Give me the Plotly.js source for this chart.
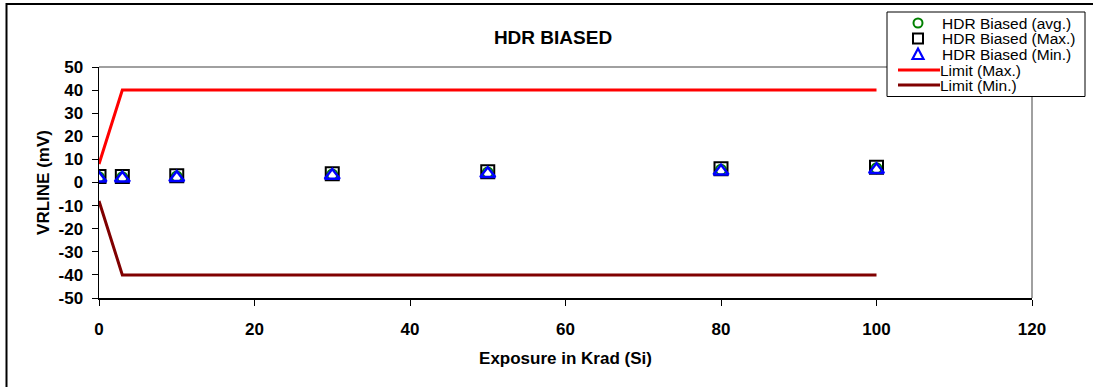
<!DOCTYPE html>
<html>
<head>
<meta charset="utf-8">
<script src="https://cdn.plot.ly/plotly-3.0.1.min.js"></script>
<style>html,body{margin:0;padding:0;background:#fff;}#chart{width:1093px;height:387px;}</style>
</head>
<body>
<div id="chart"></div>
<script>
const exposure = [0, 3, 10, 30, 50, 80, 100];
const avgVals = [2.3, 2.3, 2.6, 3.5, 4.3, 5.5, 6.2];
const maxVals = [2.6, 2.6, 2.9, 3.8, 4.6, 5.9, 6.6];
const minVals = [1.8, 1.8, 2.1, 3.0, 3.8, 4.9, 5.5];
const limitX = [0, 3, 100];
const limitMax = [8, 40, 40];
const limitMin = [-8, -40, -40];
const xTicks = [0, 20, 40, 60, 80, 100, 120];
const yTicks = [-50, -40, -30, -20, -10, 0, 10, 20, 30, 40, 50];
const seriesNames = ['HDR Biased (avg.)', 'HDR Biased (Max.)', 'HDR Biased (Min.)', 'Limit (Max.)', 'Limit (Min.)'];

const FONT = 'Arial, "Liberation Sans", sans-serif';
const W = 1093, H = 387, ML = 99, MR = 61, MT = 67, MB = 89;
const PW = W - ML - MR, PH = H - MT - MB;
const px = v => (v - ML) / PW;
const py = v => (H - MB - v) / PH;

const styles = [
  {mode: 'markers', marker: {symbol: 'circle-open', size: 10, color: '#008000', line: {width: 2, color: '#008000'}}},
  {mode: 'markers', marker: {symbol: 'square-open', size: 13, color: '#000000', line: {width: 2, color: '#000000'}}},
  {mode: 'markers', marker: {symbol: 'triangle-up-open', size: 13, color: '#0000ff', line: {width: 2.5, color: '#0000ff'}}},
  {mode: 'lines', line: {color: '#ff0000', width: 3}},
  {mode: 'lines', line: {color: '#800000', width: 3}}
];
const xs = [exposure, exposure, exposure, limitX, limitX];
const ys = [avgVals, maxVals, minVals, limitMax, limitMin];
const traces = ys.map((y, i) => Object.assign({x: xs[i], y: y, name: seriesNames[i], type: 'scatter', showlegend: false}, styles[i]));

// custom legend (Excel-like compact)
const rowY = [23, 38.5, 54, 70, 85];
const symX = 918;
const shapes = [
  {type: 'line', xref: 'paper', yref: 'paper', x0: 0, x1: 1, y0: 1, y1: 1, line: {color: '#808080', width: 1.5}},
  {type: 'line', xref: 'paper', yref: 'paper', x0: 1, x1: 1, y0: 0, y1: 1, line: {color: '#808080', width: 1.5}},
  {type: 'rect', xref: 'paper', yref: 'paper', x0: px(6.5), x1: px(1200), y0: py(500), y1: py(4),
   line: {color: '#000', width: 2}, layer: 'below'},
  {type: 'rect', xref: 'paper', yref: 'paper', x0: px(887), x1: px(1085), y0: py(96.5), y1: py(12),
   line: {color: '#000', width: 1}, fillcolor: '#fff', layer: 'above'},
  {type: 'circle', xref: 'paper', yref: 'paper', x0: px(symX - 4.5), x1: px(symX + 4.5), y0: py(rowY[0] + 4.5), y1: py(rowY[0] - 4.5),
   line: {color: '#008000', width: 2}},
  {type: 'rect', xref: 'paper', yref: 'paper', x0: px(symX - 5), x1: px(symX + 5), y0: py(rowY[1] + 5), y1: py(rowY[1] - 5),
   line: {color: '#000', width: 2}},
  {type: 'path', xref: 'paper', yref: 'paper',
   path: 'M ' + px(symX - 5.5) + ' ' + py(rowY[2] + 5) + ' L ' + px(symX + 5.5) + ' ' + py(rowY[2] + 5) + ' L ' + px(symX) + ' ' + py(rowY[2] - 5.5) + ' Z',
   line: {color: '#0000ff', width: 2.2}},
  {type: 'line', xref: 'paper', yref: 'paper', x0: px(898), x1: px(940), y0: py(rowY[3]), y1: py(rowY[3]), line: {color: '#ff0000', width: 3}},
  {type: 'line', xref: 'paper', yref: 'paper', x0: px(898), x1: px(940), y0: py(rowY[4]), y1: py(rowY[4]), line: {color: '#800000', width: 3}}
];
const annotations = seriesNames.map((n, i) => ({
  text: n, xref: 'paper', yref: 'paper', x: px(i < 3 ? 941 : 939), y: py(rowY[i]),
  xanchor: 'left', yanchor: 'middle', showarrow: false, borderpad: 0,
  font: {size: 15.5, family: FONT, color: '#000'}
}));

const layout = {
  width: W, height: H,
  margin: {l: ML, r: MR, t: MT, b: MB, pad: 0},
  paper_bgcolor: '#ffffff', plot_bgcolor: '#ffffff',
  font: {family: FONT, color: '#000'},
  showlegend: false,
  title: {text: '<b>HDR BIASED</b>', font: {size: 19, family: FONT, color: '#000'},
          x: 0.4866, xanchor: 'center', y: 0.903, yanchor: 'middle', xref: 'paper'},
  xaxis: {range: [0, 120], tickvals: xTicks, ticktext: xTicks.map(String),
          showgrid: false, zeroline: false, showline: true, linecolor: '#000', linewidth: 1.5,
          ticks: 'outside', ticklen: 6, tickcolor: '#000', tickwidth: 1, ticklabelstandoff: 9,
          tickfont: {size: 17, family: FONT, color: '#000', weight: 'bold'},
          title: {text: '<b>Exposure in Krad (Si)</b>', font: {size: 17, family: FONT, color: '#000'}, standoff: 14}},
  yaxis: {range: [-50, 50], tickvals: yTicks, ticktext: yTicks.map(String),
          showgrid: false, zeroline: false, showline: true, linecolor: '#000', linewidth: 1.5,
          ticks: 'outside', ticklen: 6, tickcolor: '#000', tickwidth: 1, ticklabelstandoff: 5,
          tickfont: {size: 17, family: FONT, color: '#000', weight: 'bold'},
          title: {text: '<b>VRLINE (mV)</b>', font: {size: 17, family: FONT, color: '#000'}, standoff: 4}},
  shapes: shapes,
  annotations: annotations
};

Plotly.newPlot('chart', traces, layout, {displayModeBar: false, staticPlot: true});
</script>
</body>
</html>
